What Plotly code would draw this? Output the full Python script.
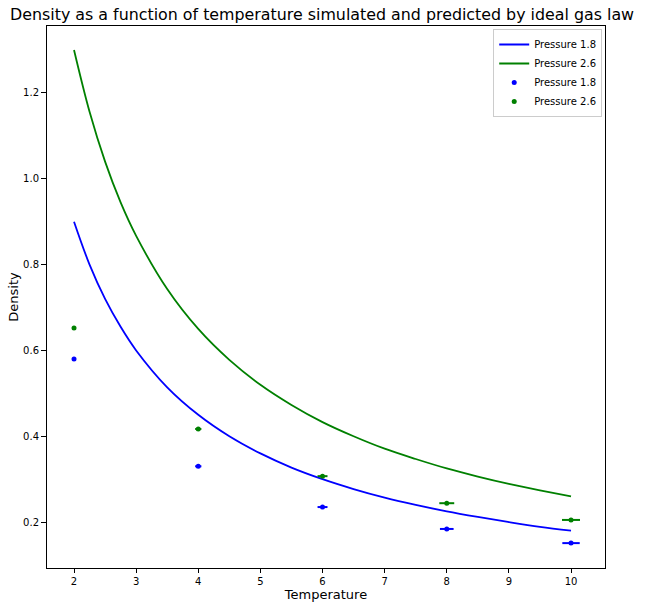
import plotly.graph_objects as go

# Ideal gas law curves
curve_T = [2, 2.25, 2.5, 2.75, 3, 3.5, 4, 4.5, 5, 5.5, 6, 6.5, 7, 7.5, 8, 8.5, 9, 9.5, 10]
curve_p18 = [0.9, 0.8, 0.72, 0.655, 0.6, 0.514, 0.45, 0.4, 0.36, 0.327, 0.3, 0.277,
             0.257, 0.24, 0.225, 0.212, 0.2, 0.189, 0.18]
curve_p26 = [1.3, 1.156, 1.04, 0.945, 0.867, 0.743, 0.65, 0.578, 0.52, 0.473, 0.433,
             0.4, 0.371, 0.347, 0.325, 0.306, 0.289, 0.274, 0.26]

# Simulated points
sim_T = [2, 4, 6, 8, 10]
sim_p18 = [0.580, 0.330, 0.235, 0.184, 0.151]
sim_p26 = [0.652, 0.417, 0.307, 0.244, 0.205]
sim_terr_p18 = [0.01, 0.05, 0.08, 0.11, 0.14]
sim_terr_p26 = [0.01, 0.05, 0.08, 0.12, 0.145]
sim_derr_p18 = [0.002, 0.002, 0.002, 0.002, 0.002]
sim_derr_p26 = [0.002, 0.002, 0.002, 0.002, 0.002]

BLUE = "#0000ff"
GREEN = "#008000"

fig = go.Figure()
fig.add_trace(go.Scatter(x=curve_T, y=curve_p18, mode="lines", name="Pressure 1.8",
                         line=dict(color=BLUE, width=1.8, shape="spline")))
fig.add_trace(go.Scatter(x=curve_T, y=curve_p26, mode="lines", name="Pressure 2.6",
                         line=dict(color=GREEN, width=1.8, shape="spline")))
fig.add_trace(go.Scatter(x=sim_T, y=sim_p18, mode="markers", name="Pressure 1.8",
                         marker=dict(color=BLUE, size=5),
                         error_x=dict(type="data", array=sim_terr_p18, color=BLUE, thickness=2, width=0),
                         error_y=dict(type="data", array=sim_derr_p18, color=BLUE, thickness=2, width=0)))
fig.add_trace(go.Scatter(x=sim_T, y=sim_p26, mode="markers", name="Pressure 2.6",
                         marker=dict(color=GREEN, size=5),
                         error_x=dict(type="data", array=sim_terr_p26, color=GREEN, thickness=2, width=0),
                         error_y=dict(type="data", array=sim_derr_p26, color=GREEN, thickness=2, width=0)))

font = "DejaVu Sans"
fig.update_layout(
    width=650, height=610,
    margin=dict(l=47, r=45, t=26, b=42, autoexpand=False),
    plot_bgcolor="white", paper_bgcolor="white",
    font=dict(family=font, color="black", size=10),
    title=dict(text="Density as a function of temperature simulated and predicted by ideal gas law",
               x=0.4955, xref="container", xanchor="center", y=0.977, yanchor="middle",
               font=dict(family=font, size=15.85, color="black")),
    showlegend=True,
    legend=dict(x=0.995, y=0.9945, xanchor="right", yanchor="top",
                bgcolor="white", bordercolor="#cccccc", borderwidth=1,
                font=dict(family=font, size=10, color="black"),
                tracegroupgap=0, itemwidth=30),
)
fig.update_xaxes(range=[1.565, 10.547], tickvals=[2, 3, 4, 5, 6, 7, 8, 9, 10],
                 showline=True, linecolor="black", linewidth=1, mirror=True, automargin=False,
                 ticks="outside", ticklen=4, tickcolor="black", showgrid=False, zeroline=False,
                 title=dict(text="Temperature", font=dict(family=font, size=13), standoff=3))
fig.update_yaxes(range=[0.093, 1.356], tickvals=[0.2, 0.4, 0.6, 0.8, 1.0, 1.2],
                 ticktext=["0.2", "0.4", "0.6", "0.8", "1.0", "1.2"],
                 showline=True, linecolor="black", linewidth=1, mirror=True, automargin=False,
                 ticks="outside", ticklen=5, tickcolor="black", showgrid=False, zeroline=False,
                 title=dict(text="Density", font=dict(family=font, size=13), standoff=1))

fig.write_html("out.html", config={"displayModeBar": False},
               post_script="document.body.style.margin='0';")
